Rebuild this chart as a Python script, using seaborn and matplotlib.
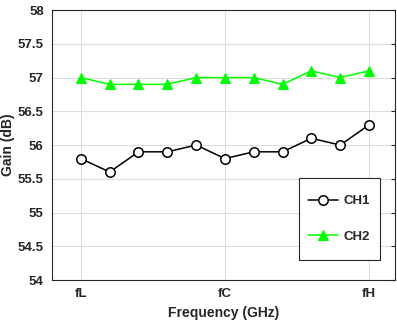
import matplotlib
matplotlib.use("Agg")
import matplotlib.pyplot as plt
from matplotlib.patches import Rectangle
import seaborn as sns
import pandas as pd

x_idx = list(range(11))
ch1 = [55.8, 55.6, 55.9, 55.9, 56.0, 55.8, 55.9, 55.9, 56.1, 56.0, 56.3]
ch2 = [57.0, 56.9, 56.9, 56.9, 57.0, 57.0, 57.0, 56.9, 57.1, 57.0, 57.1]
tick_pos = [0, 5, 10]
tick_labels = ["fL", "fC", "fH"]
y_ticks = [54, 54.5, 55, 55.5, 56, 56.5, 57, 57.5, 58]

sns.set_style("white")
plt.rcParams['font.family'] = ['Liberation Sans', 'DejaVu Sans']
plt.rcParams['font.weight'] = 'bold'

df = pd.DataFrame({"x": x_idx * 2, "y": ch1 + ch2,
                   "ch": ["CH1"] * 11 + ["CH2"] * 11})

fig = plt.figure(figsize=(3.97, 3.26), dpi=100)
ax = fig.add_axes([0.131, 0.141, 0.864, 0.828])

sns.lineplot(data=df[df.ch == "CH1"], x="x", y="y", ax=ax, color="black",
             marker="o", markersize=6.8, markerfacecolor="white",
             markeredgecolor="black", markeredgewidth=1.1, linewidth=1.1,
             label="CH1")
sns.lineplot(data=df[df.ch == "CH2"], x="x", y="y", ax=ax, color="#00ff00",
             marker="^", markersize=7.8, markerfacecolor="#00ff00",
             markeredgecolor="#00ff00", linewidth=1.1, label="CH2")

ax.set_xlim(-1, 10.9)
ax.set_ylim(54, 58)
ax.set_xticks(tick_pos)
ax.set_xticklabels(tick_labels)
ax.set_yticks(y_ticks)
ax.set_yticklabels([f"{v:g}" for v in y_ticks])
ax.grid(True, color="#dcdcdc", linewidth=0.8)
ax.set_axisbelow(True)
ax.tick_params(axis="both", labelsize=9.5, direction="in", length=3,
               right=True, top=False, pad=6)
for s in ax.spines.values():
    s.set_color("#262626")
    s.set_linewidth(0.8)
ax.set_xlabel("Frequency (GHz)", fontsize=10, fontweight="bold", labelpad=4)
ax.set_ylabel("Gain (dB)", fontsize=10, fontweight="bold", labelpad=2)

# legend frame drawn separately to get the tall, narrow box
ax.add_patch(Rectangle((0.72, 0.074), 0.236, 0.304, transform=ax.transAxes,
                       facecolor="white", edgecolor="#262626", linewidth=0.8,
                       zorder=4))
leg = ax.legend(loc="center", bbox_to_anchor=(0.836, 0.226),
                fontsize=9.5, frameon=False, borderpad=0.2,
                labelspacing=1.75, handlelength=2.3, handletextpad=0.35)
leg.set_zorder(5)

fig.savefig("out.png", dpi=100)
